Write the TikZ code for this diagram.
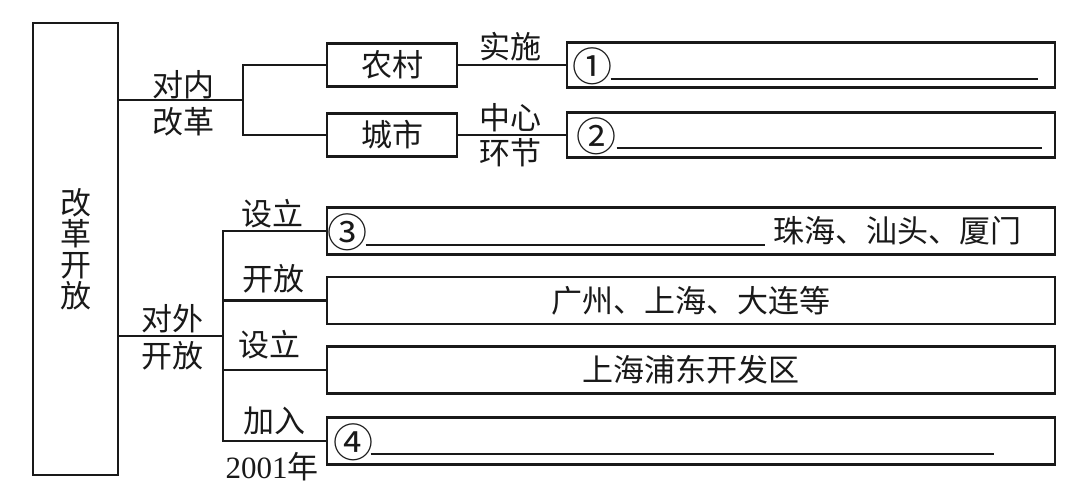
\documentclass[tikz,border=0pt]{standalone}
\usepackage{fontspec}
\setmainfont{Noto Sans CJK SC}
\newfontfamily\numfont{Liberation Serif}
\usepackage{tikz}
\usetikzlibrary{positioning}
\definecolor{myink}{RGB}{25,25,25}
\tikzset{
  bigbox/.style={rectangle, draw=myink, line width=2.8pt,
    minimum width=85pt, minimum height=452pt, align=center,
    font=\fontsize{31}{31}\selectfont},
  smallbox/.style={rectangle, draw=myink, line width=2.8pt,
    minimum width=130pt, minimum height=43pt},
  fillbox/.style={rectangle, draw=myink, line width=2.8pt,
    minimum width=488pt, minimum height=45pt},
  widebox/.style={rectangle, draw=myink, line width=2.8pt,
    minimum width=728pt, minimum height=47pt},
  twoline/.style={align=center, font=\fontsize{31}{37}\selectfont},
  circnum/.style={font=\fontsize{40}{40}\selectfont},
  line/.style={line width=2.8pt, color=myink},
  blank/.style={line width=2pt, color=myink}
}

\begin{document}
\begin{tikzpicture}[x=1pt, y=-1pt, every node/.style={inner sep=0pt, text=myink, font=\fontsize{31}{31}\selectfont}]
  \useasboundingbox (0,0) rectangle (1071,486);

  % Main box (left side)
  \node[bigbox] (main) at (75.5,249) {改\\革\\开\\放};

  % Internal reform branch
  \coordinate (jin) at (243,100);
  \node[smallbox] (rural) at (392,65) {农村};
  \node[smallbox] (urban) at (392,135) {城市};
  \node[fillbox] (fill1) at (811,65) {};
  \node[fillbox] (fill2) at (811,135) {};
  \node[twoline] (inlbl) at (183,103) {对内\\改革};
  \draw[line] (main.east |- jin) -- (jin);
  \draw[line] (rural.west) -| (jin) |- (urban.west);
  \draw[line] (rural.east) -- (fill1.west);
  \draw[line] (urban.east) -- (fill2.west);
  \node (shishi) at (510,47) {实施};
  \node[twoline, font=\fontsize{31}{35}\selectfont] (zhongxin) at (510,135) {中心\\环节};

  % Blanks 1 and 2
  \node[circnum] (n1) at ([shift={(27,1)}]fill1.west) {①};
  \draw[blank] ([shift={(45,14)}]fill1.west) -- ([shift={(-18,14)}]fill1.east);
  \node[circnum] (n2) at ([shift={(31,1)}]fill2.west) {②};
  \draw[blank] ([shift={(51,13)}]fill2.west) -- ([shift={(-14,13)}]fill2.east);

  % Opening up branch
  \coordinate (jout) at (223,336);
  \node[widebox] (sez) at (691,231) {};
  \node[widebox] (ports) at (691,300.5) {广州、上海、大连等};
  \node[widebox] (pudong) at (691,370) {上海浦东开发区};
  \node[widebox] (wto) at (691,441) {};
  \node[twoline] (outlbl) at (172,337) {对外\\开放};
  \draw[line] (main.east |- jout) -- (jout);
  \draw[line] (sez.west) -| (jout) |- (wto.west);
  \draw[line] (jout |- ports.west) -- (ports.west);
  \draw[line] (jout |- pudong.west) -- (pudong.west);
  \node (sheli1) at (272,214) {设立};
  \node (kaifang) at (273,279) {开放};
  \node (sheli2) at (269,345) {设立};
  \node (jiaru) at (274,421) {加入};
  \node (year) at (272,467) {{\numfont 2001}年};

  % Blanks 3 and 4
  \node[circnum] (n3) at ([shift={(22,1)}]sez.west) {③};
  \node[anchor=east] (sezcity) at ([shift={(-35,0)}]sez.east) {珠海、汕头、厦门};
  \draw[blank] ([shift={(40,14)}]sez.west) -- ([shift={(-8,14)}]sezcity.west);
  \node[circnum] (n4) at ([shift={(28,1)}]wto.west) {④};
  \draw[blank] ([shift={(45,13)}]wto.west) -- ([shift={(-62,13)}]wto.east);
\end{tikzpicture}
\end{document}
